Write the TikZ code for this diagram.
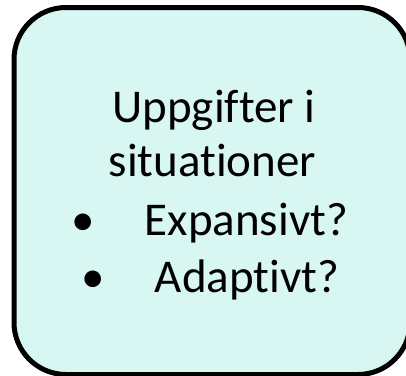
\documentclass[tikz,border=0pt]{standalone}
\usepackage{fontspec}
\setmainfont{Carlito}[Ligatures=NoCommon]
\definecolor{boxfill}{RGB}{217,247,242}
\begin{document}
\begin{tikzpicture}[x=1pt,y=-1pt,
  txt/.style={anchor=base,inner sep=0pt,font=\fontsize{47}{57}\selectfont},
  boxstyle/.style={draw=black,line width=5pt,fill=boxfill,rounded corners=52pt}]
\useasboundingbox (0,0) rectangle (406,375);
\begin{scope}
\clip (0,0) rectangle (406,375);
\draw[boxstyle] (14,7.5) rectangle (410,374.5);
\end{scope}
\node[txt] (l1) at (214,122) {Uppgifter i};
\node[txt] (l2) at (212.5,176) {situationer};
\node[txt] (b1) at (83.5,235) {•};
\node[txt] (l3) at (246.5,235) {Expansivt?};
\node[txt] (b2) at (93,292) {•};
\node[txt] (l4) at (247,292) {Adaptivt?};
\end{tikzpicture}
\end{document}
